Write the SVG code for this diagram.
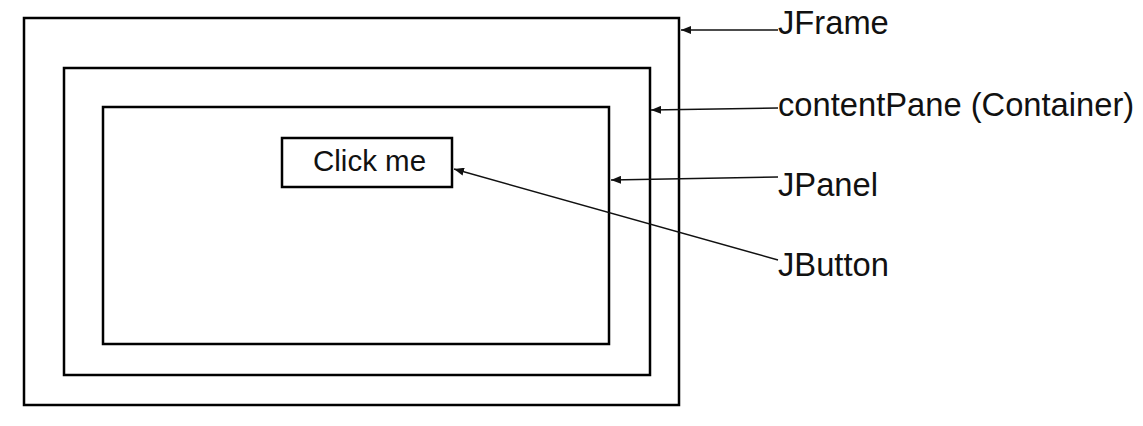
<svg xmlns="http://www.w3.org/2000/svg" width="1143" height="426" viewBox="0 0 1143 426">
<style>
.box{fill:none;stroke:#000;stroke-width:2.5}
.lbl{font-family:"Liberation Sans",Arial,sans-serif;font-size:32.7px;fill:#111}
.btn{font-family:"Liberation Sans",Arial,sans-serif;font-size:29.5px;fill:#111}
.conn{stroke:#111;stroke-width:1.4;fill:none;marker-end:url(#ah)}
</style>
<defs>
<marker id="ah" viewBox="0 0 10 8" refX="10" refY="4" markerWidth="10" markerHeight="8" markerUnits="userSpaceOnUse" orient="auto">
<path d="M0,0 L10,4 L0,8 Z" fill="#111"/>
</marker>
</defs>
<rect width="1143" height="426" fill="#fff"/>
<g id="jframe">
<rect class="box" x="24" y="18" width="655" height="387"/>
<text class="lbl" x="778" y="34">JFrame</text>
</g>
<g id="contentPane">
<rect class="box" x="64" y="68" width="586" height="307"/>
<text class="lbl" x="778" y="116">contentPane (Container)</text>
</g>
<g id="jpanel">
<rect class="box" x="103" y="107" width="506" height="237"/>
<text class="lbl" x="778" y="196">JPanel</text>
</g>
<g id="jbutton">
<rect class="box" x="282" y="138" width="170" height="49"/>
<text class="btn" x="313" y="171">Click me</text>
<text class="lbl" x="778" y="276">JButton</text>
</g>
<g id="connectors">
<line class="conn" x1="778" y1="30" x2="681" y2="30"/>
<line class="conn" x1="778" y1="108" x2="651" y2="110"/>
<line class="conn" x1="778" y1="177" x2="611" y2="180"/>
<line class="conn" x1="778" y1="260" x2="454" y2="169"/>
</g>
</svg>
